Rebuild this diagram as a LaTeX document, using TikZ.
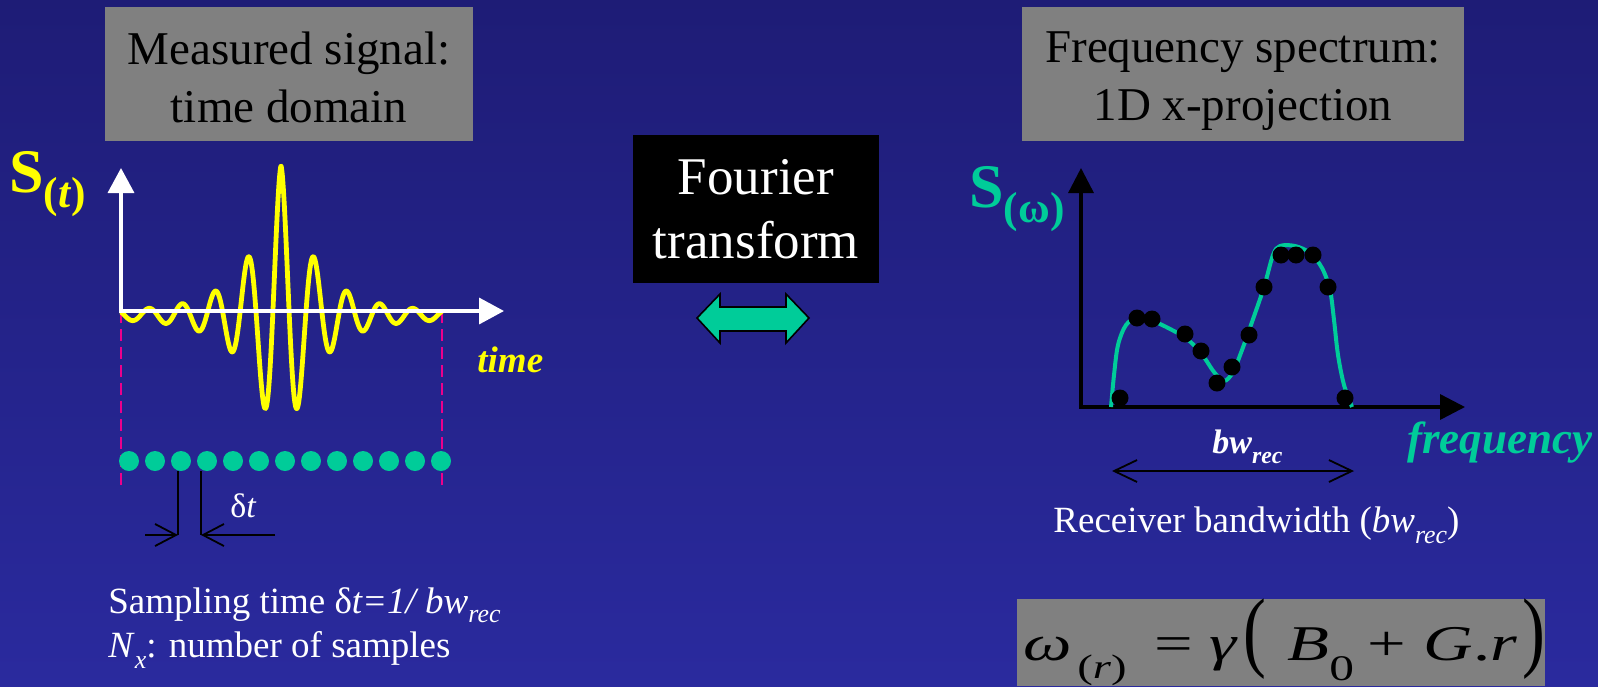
\documentclass[tikz,border=0pt]{standalone}
\usepackage{fontspec}
\setmainfont{Liberation Serif}
\usepackage{graphicx}
\usepackage{tikz}
\usetikzlibrary{positioning, calc, arrows.meta}
\definecolor{bgtop}{RGB}{30,28,118}
\definecolor{bgbot}{RGB}{42,42,158}
\definecolor{sigyellow}{RGB}{255,255,0}
\definecolor{specteal}{RGB}{0,204,153}
\definecolor{boxgray}{RGB}{128,128,128}
\newcommand{\lsub}[2]{\raisebox{-#1}{\scalebox{0.7}{#2}}}
\newcommand{\tallparen}[1]{\scalebox{1}[1.78]{#1}}

\begin{document}
\begin{tikzpicture}[x=0.5pt, y=-0.5pt,
  every node/.style={inner sep=0pt, text=white},
  titlebox/.style={fill=boxgray, minimum width=#1, minimum height=67pt},
  titletext/.style={text=black, align=center, font=\fontsize{23.5}{29}\selectfont, anchor=north},
  axiswhite/.style={white, line width=1.8pt,
    {Triangle[length=12.5pt, width=13pt]}-{Triangle[length=12.5pt, width=13pt]}},
  axisblack/.style={black, line width=1.7pt,
    {Triangle[length=12.5pt, width=12.5pt]}-{Triangle[length=12.5pt, width=12.5pt]}},
  wave/.style={sigyellow, line width=2.4pt, line join=round},
  spectrum/.style={specteal, line width=2pt},
  windowline/.style={magenta, line width=0.8pt, dash pattern=on 6pt off 3pt},
  tdot/.style={circle, fill=specteal, minimum size=10pt},
  fdot/.style={circle, fill=black, minimum size=8.5pt},
  dtarrow/.style={black, line width=0.9pt, -{Straight Barb[length=10.5pt, width=11pt]}},
  bwarrow/.style={black, line width=0.9pt,
    {Straight Barb[length=11.5pt, width=11pt]}-{Straight Barb[length=11.5pt, width=11pt]}},
  biglabel/.style={font=\bfseries\fontsize{31}{31}\selectfont, anchor=base west},
  axislabel/.style={font=\bfseries\itshape\fontsize{#1}{#1}\selectfont, anchor=base west},
  plaintext/.style={font=\fontsize{#1}{#1}\selectfont, anchor=base west}
]
  % background
  \shade[top color=bgtop, bottom color=bgbot] (0,0) rectangle (1598,686);
  \useasboundingbox (0,0) rectangle (1598,686);

  % titles
  \node[titlebox=184pt] (tdombox) at (289,74) {};
  \node[titletext] (tdom) at (289,31) {Measured signal:\\time domain};
  \node[titlebox=221pt] (fspecbox) at (1243,74) {};
  \node[titletext] (fspec) at (1243,31) {Frequency spectrum:\\1D x-projection};

  % Fourier transform
  \node[fill=black, minimum width=123pt, minimum height=74pt, align=center,
        font=\fontsize{26.5}{32}\selectfont] (ft) at (756,209) {Fourier\\transform};
  \filldraw[fill=specteal, draw=black, line width=0.8pt]
    (697,318) -- (720,294) -- (720,307) -- (786,307) -- (786,294) -- (809,318)
    -- (786,343) -- (786,331) -- (720,331) -- (720,343) -- cycle;

  % time domain signal
  \coordinate (tO) at (121,311);
  \coordinate (tY) at (121,168);
  \coordinate (tX) at (504,311);
  \coordinate (tE) at (442,311);
  \coordinate (tOb) at (121,487);
  \coordinate (tEb) at (442,487);
  \draw[windowline] (tO) -- (tOb);
  \draw[windowline] (tE) -- (tEb);
  \draw[wave] plot[domain=121:442, samples=600]
    (\x, {315-(146*exp(-abs(\x-281)/33)+4)*cos(10.909*(\x-281))});
  \draw[axiswhite] (tY) -- (tO) -- (tX);
  \node[biglabel, text=sigyellow] (St) at (9,192) {S\lsub{0.25em}{(\textit{t})}};
  \node[axislabel=18.5, text=sigyellow] (tlab) at (477,372) {time};

  % samples
  \foreach \i in {1,...,13}
    \node[tdot] (d\i) at ({129+26*(\i-1)},461) {};

  % sampling interval
  \coordinate (dtL) at (178,535);
  \coordinate (dtR) at (201,535);
  \coordinate (dtLfar) at (145,535);
  \coordinate (dtRfar) at (275,535);
  \draw[black, line width=0.9pt] (dtL |- d3.south) -- (dtL);
  \draw[black, line width=0.9pt] (dtR |- d4.south) -- (dtR);
  \draw[dtarrow] (dtLfar) -- (dtL);
  \draw[dtarrow] (dtRfar) -- (dtR);
  \node[plaintext=17] (dt) at (230,517) {δ\textit{t}};
  \node[plaintext=18.5] (samp) at (108,613)
    {Sampling time δ\textit{t=1/ bw}\lsub{0.25em}{\textit{rec}}};
  \node[plaintext=18.5] (nx) at (108,657)
    {\textit{N}\lsub{0.3em}{\textit{x}}: number of samples};

  % frequency spectrum
  \coordinate (fO) at (1081,407);
  \coordinate (fY) at (1081,168);
  \coordinate (fX) at (1465,407);
  \draw[axisblack] (fY) -- (fO) -- (fX);
  \draw[spectrum] plot[smooth, tension=0.55] coordinates {
    (1111,407) (1114,375) (1118,345) (1126,325) (1137,318) (1150,320)
    (1160,324) (1172,330) (1186,338) (1201,353) (1214,372) (1224,381)
    (1233,372) (1242,350) (1252,322) (1264,287) (1273,255) (1280,246)
    (1295,246) (1310,253) (1322,268) (1330,290) (1334,320) (1338,355)
    (1344,385) (1352,407)};
  \foreach \x/\y [count=\i] in {1120/398, 1137/318, 1152/319, 1185/334,
      1201/351, 1217/383, 1232/367, 1249/335, 1264/287, 1281/255,
      1296/255, 1313/255, 1328/287, 1345/398}
    \node[fdot] (f\i) at (\x,\y) {};
  \node[biglabel, text=specteal] (Sw) at (969,207) {S\lsub{0.25em}{(ω)}};
  \node[axislabel=22.5, text=specteal] (flab) at (1407,453) {frequency};

  % receiver bandwidth
  \node[axislabel=17] (bw) at (1212,453) {bw\lsub{0.3em}{rec}};
  \coordinate (bwL) at (1112,471);
  \coordinate (bwR) at (1354,471);
  \draw[bwarrow] (bwL) -- (bwR);
  \node[plaintext=18.5] (rbw) at (1053,532)
    {Receiver bandwidth (\textit{bw}\lsub{0.3em}{\textit{rec}})};

  % resonance frequency
  \node[fill=boxgray, minimum width=264pt, minimum height=43.5pt] (lbox) at (1281,642.5) {};
  \node[plaintext=25, text=black] (larmor) at (1023,660)
    {\resizebox{261pt}{\height}{\textit{ω}\kern2pt\raisebox{-0.36em}{\fontsize{17}{17}\selectfont(\textit{r})}\hspace{0.4em}=\hspace{0.25em}\textit{γ}\kern2pt\tallparen{(}\hspace{0.3em}\textit{B}\raisebox{-0.4em}{\fontsize{18}{18}\selectfont 0}\hspace{0.2em}+\hspace{0.25em}\textit{G}.\textit{r}\kern2pt\tallparen{)}}};
\end{tikzpicture}
\end{document}
